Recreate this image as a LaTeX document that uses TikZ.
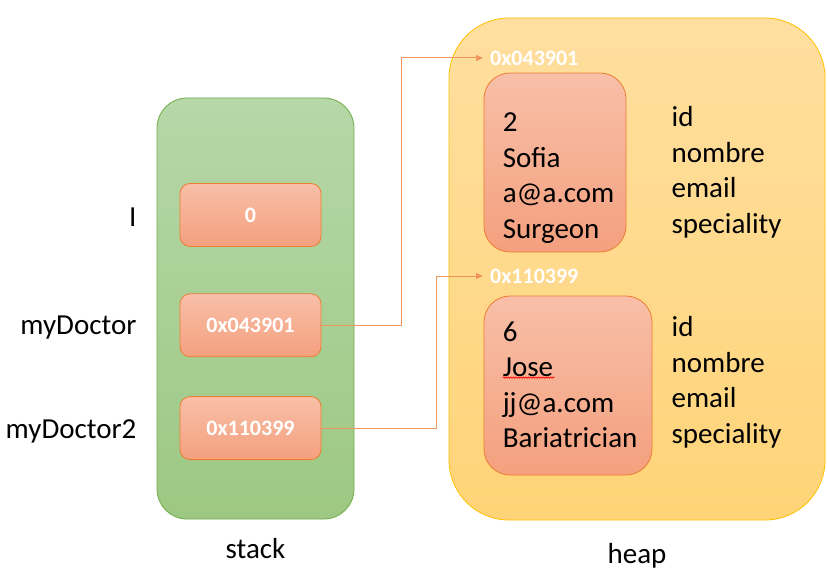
\documentclass[tikz,border=0pt]{standalone}
\usepackage{fontspec}
\setmainfont{Carlito}
\usetikzlibrary{positioning,arrows.meta,calc,decorations.pathmorphing}

\definecolor{stackline}{HTML}{70AD47}
\definecolor{stacktop}{HTML}{B6D7A8}
\definecolor{stackbot}{HTML}{9DC883}
\definecolor{heapline}{HTML}{FFC000}
\definecolor{heaptop}{HTML}{FFDFA0}
\definecolor{heapbot}{HTML}{FFD478}
\definecolor{cellline}{HTML}{ED7D31}
\definecolor{celltop}{HTML}{F8BFA8}
\definecolor{cellbot}{HTML}{F4A07E}
\definecolor{ptrline}{HTML}{F0955E}

\begin{document}
\begin{tikzpicture}[
    x=1pt, y=-1pt,
    every node/.style={font=\fontsize{29}{35.5}\selectfont, inner sep=0pt},
    stackbox/.style={draw=stackline, line width=0.8pt, top color=stacktop, bottom color=stackbot, rounded corners=30pt, minimum width=197pt, minimum height=421pt},
    heapbox/.style={draw=heapline, line width=0.8pt, top color=heaptop, bottom color=heapbot, rounded corners=60pt, minimum width=376pt, minimum height=502pt},
    cell/.style={draw=cellline, line width=0.8pt, top color=celltop, bottom color=cellbot, rounded corners=10pt, minimum width=141pt, minimum height=63pt, text=white, font=\fontsize{22}{26}\selectfont\bfseries},
    objbox/.style={draw=cellline, line width=0.8pt, top color=celltop, bottom color=cellbot, rounded corners=26pt, minimum height=179pt},
    field/.style={align=left, anchor=north west},
    addr/.style={text=white, font=\fontsize{22}{26}\selectfont\bfseries, anchor=west, inner xsep=7pt},
    ptr/.style={draw=ptrline, line width=1pt, -{Triangle[length=7pt, width=6pt]}}
]
\useasboundingbox (0,0) rectangle (827,575);

% stack
\node[stackbox] (stack) at (255.5,308.5) {};
\node[below=19pt of stack] (stacklbl) {stack};

\node[cell] (var1) at (250.5,215) {0};
\node[cell, below=46.5pt of var1] (ptr1) {0x043901};
\node[cell, below=39pt of ptr1] (ptr2) {0x110399};

\node[left=43pt of var1, yshift=-2pt] (lbl1) {I};
\node[left=43pt of ptr1, yshift=-2pt] (lbl2) {myDoctor};
\node[left=43pt of ptr2, yshift=-3pt] (lbl3) {myDoctor2};

% heap
\node[heapbox] (heap) at (637,269) {};
\node[below=23pt of heap] (heaplbl) {heap};

\node[objbox, minimum width=142pt] (obj1) at (555,162.5) {};
\node[objbox, minimum width=168pt] (obj2) at (568,385.5) {};

\node[addr] (addr1) at (483,58) {0x043901};
\node[addr] (addr2) at (483,276) {0x110399};

\node[field] (vals1) at ($(obj1.north west)+(19,40)$) {2\\Sofia\\a@a.com\\Surgeon};
\node[field] (keys1) at ($(obj1.north east)+(45,34)$) {id\\nombre\\email\\speciality};
\node[field] (vals2) at ($(obj2.north west)+(19,26)$) {6\\Jose\\jj@a.com\\Bariatrician};
\node[field] (keys2) at ($(obj2.north east)+(19,21)$) {id\\nombre\\email\\speciality};

% spell check mark
\draw[red, line width=0.6pt, decorate, decoration={snake, amplitude=0.7pt, segment length=2.5pt}]
    ($(vals2.north west)+(0,56)$) -- ++(52,0);

% pointers
\draw[ptr] (ptr1.east) -- ++(80,0) |- (addr1.west);
\draw[ptr] (ptr2.east) -- ++(115,0) |- (addr2.west);

\end{tikzpicture}
\end{document}
